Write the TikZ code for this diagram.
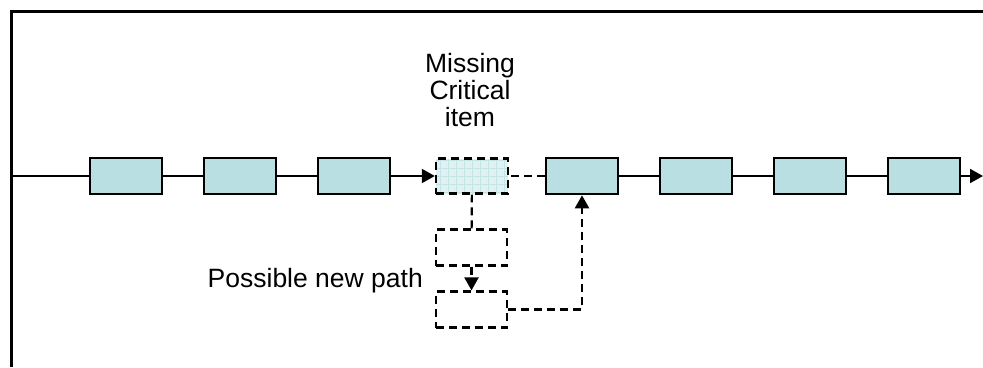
\documentclass[tikz,border=0pt]{standalone}
\usepackage{fontspec}
\setmainfont{Liberation Sans}
\usetikzlibrary{arrows.meta}
\tikzset{item/.style={draw=black,line width=2.6pt,fill=itemfill,minimum width=72pt,minimum height=36pt,inner sep=0pt}}
\tikzset{gap/.style={draw=black,line width=2.4pt,dash pattern=on 8pt off 5pt,fill=gapfill,minimum width=72pt,minimum height=35pt,inner sep=0pt,
  path picture={\draw[gridfill,line width=.6pt,solid] (path picture bounding box.south west) grid[step=8pt] (path picture bounding box.north east);}}}
\tikzset{maybe/.style={draw=black,line width=2.2pt,dash pattern=on 8pt off 5pt,minimum width=71pt,minimum height=36pt,inner sep=0pt}}
\tikzset{l/.style={font=\fontsize{26.5}{27}\selectfont,inner sep=0pt}}
\tikzset{headed/.style={-{Triangle[length=13pt,width=14pt]}}}
\tikzset{dashline/.style={line width=2.2pt,dash pattern=on 8pt off 5pt}}
\tikzset{wire/.style={line width=2pt}}
\definecolor{itemfill}{RGB}{186,223,226}
\definecolor{gapfill}{RGB}{224,241,242}
\definecolor{gridfill}{RGB}{196,228,231}

\begin{document}
\begin{tikzpicture}[x=1pt,y=-1pt]
        \useasboundingbox (0,0) rectangle (983,367);
        \draw[line width=3pt] (11,367)--(11,11)--(983,11);
        \coordinate (in) at (11,176);
        \coordinate (out) at (983,176);
        \node[item] (b1) at (126,176) {}
          edge [wire] (in);
        \node[item] (b2) at (240,176) {}
          edge [wire] (b1);
        \node[item] (b3) at (354,176) {}
          edge [wire] (b2);
        \node[gap] (miss) at (472,176) {};
        \draw[wire,headed] (b3) -- (miss);
        \node[item] (b5) at (582,176) {}
          edge [dashline] (miss);
        \node[item] (b6) at (696,176) {}
          edge [wire] (b5);
        \node[item] (b7) at (810,176) {}
          edge [wire] (b6);
        \node[item] (b8) at (924,176) {}
          edge [wire] (b7);
        \draw[wire,headed] (b8) -- (out);
        \node[maybe] (p1) at (471.5,247.5) {}
          edge [dashline] (miss);
        \node[maybe] (p2) at (471.5,309.5) {};
        \draw[dashline,headed] (p1) -- (p2);
        \draw[dashline,headed] (p2.east) -| (b5.south);
        \node[l,align=center,anchor=north] (lbl) at (470,53) {Missing\\Critical\\item};
        \node[l,anchor=base east] (path) at (423,287) {Possible new path};
      \end{tikzpicture}
\end{document}
